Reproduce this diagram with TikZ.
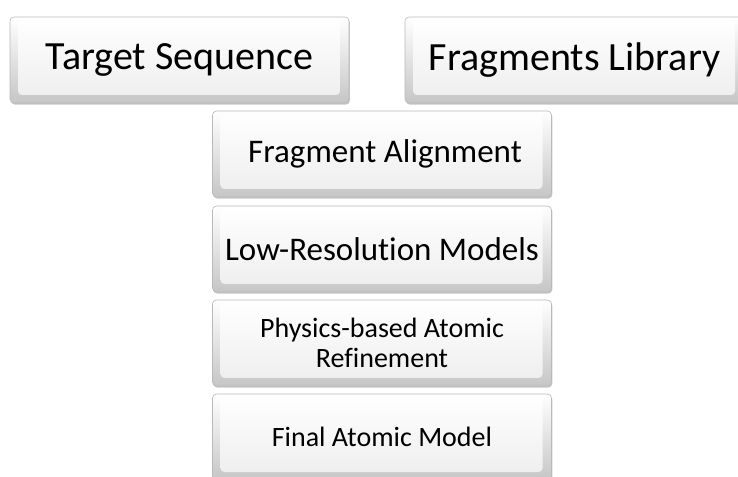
\documentclass[tikz,border=0pt]{standalone}
\usepackage{fontspec}
\setmainfont{Carlito}[Ligatures={NoCommon,NoRare}]
\usetikzlibrary{shadows}
\tikzset{
  bevelbox/.style={
    rectangle, rounded corners=4pt, minimum width=339pt, minimum height=86pt,
    draw=gray!55, line width=0.6pt,
    top color=white, bottom color=gray!45,
    drop shadow={shadow xshift=0.8pt, shadow yshift=-1.6pt, opacity=0.45, fill=gray},
    path picture={
      \shade[top color=white, bottom color=gray!14]
        ([xshift=8pt,yshift=8pt]path picture bounding box.south west)
        rectangle ([xshift=-9pt,yshift=-3pt]path picture bounding box.north east);
    },
    text=black, align=center, inner sep=0pt
  },
  bigtext/.style={font=\fontsize{40}{48}\selectfont},
  midtext/.style={font=\fontsize{33}{40}\selectfont},
  smalltext/.style={font=\fontsize{28}{30}\selectfont}
}
\begin{document}
\begin{tikzpicture}[x=1pt,y=1pt]
\useasboundingbox (0,0) rectangle (738,476);
\clip (0,0) rectangle (738,476);
\node[bevelbox, bigtext] (target) at (179.5,416) {Target Sequence};
\node[bevelbox, bigtext] (library) at (574.5,416) {Fragments Library};
\node[bevelbox, midtext] (align) at (382,322) {\hspace{6pt}Fragment Alignment};
\node[bevelbox, midtext] (lowres) at (382,227) {Low-Resolution Models};
\node[bevelbox, smalltext] (refine) at (382,133) {Physics-based Atomic\\Refinement};
\node[bevelbox, smalltext] (final) at (382,39) {Final Atomic Model};
\end{tikzpicture}
\end{document}
